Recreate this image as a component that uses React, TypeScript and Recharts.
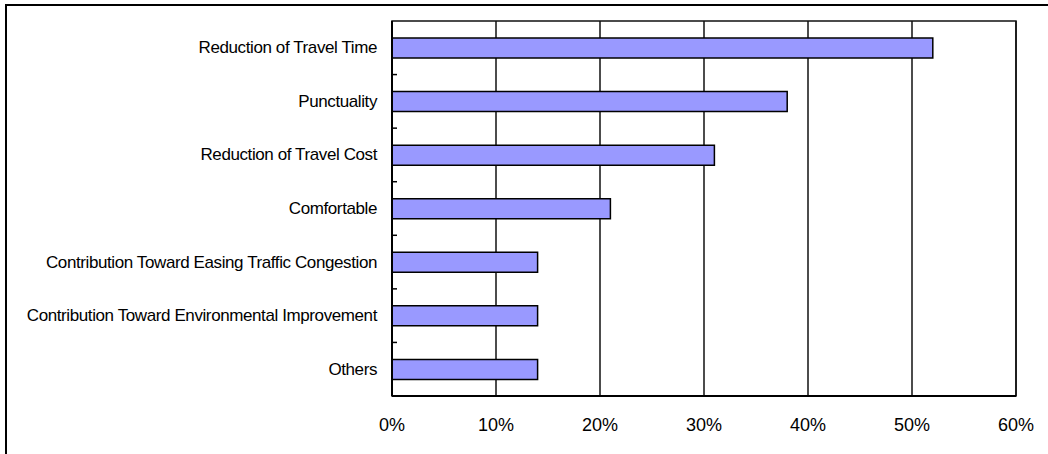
import { BarChart, Bar, XAxis, YAxis, CartesianGrid, ReferenceArea } from 'recharts'

const reasons = [
  'Reduction of Travel Time',
  'Punctuality',
  'Reduction of Travel Cost',
  'Comfortable',
  'Contribution Toward Easing Traffic Congestion',
  'Contribution Toward Environmental Improvement',
  'Others',
]
const shares = [52, 38, 31, 21, 14, 14, 14]
const xTicks = [0, 10, 20, 30, 40, 50, 60]

const data = reasons.map((name, i) => ({ name, share: shares[i] }))

const LABEL_GAP = 15

// category label plus the little inward tick at the lower edge of each band
const ReasonTick = (props: any) => {
  const { x, y, payload, index } = props
  const half = payload?.offset ?? 26.7
  const axisX = x + LABEL_GAP
  return (
    <g>
      <text
        x={x} y={y} textAnchor="end" dominantBaseline="central"
        fontFamily="Arial, 'Liberation Sans', sans-serif" fontSize={17} letterSpacing={-0.4} fill="#000"
      >
        {payload.value}
      </text>
      {index < reasons.length - 1 && (
        <line x1={axisX} x2={axisX + 5} y1={y + half} y2={y + half} stroke="#000" strokeWidth={1.5} />
      )}
    </g>
  )
}

export default function App() {
  return (
    <div style={{ position: 'absolute', left: 0, top: 0, width: 1048, height: 454, overflow: 'hidden', background: '#fff' }}>
      <div style={{ position: 'absolute', left: 5, top: 4, width: 1100, height: 500, border: '2px solid #000' }} />
      <div style={{ position: 'absolute', left: 0, top: 0 }}>
        <BarChart
          width={1048} height={454} data={data} layout="vertical"
          margin={{ top: 21, right: 32, bottom: 0, left: 0 }}
        >
          <CartesianGrid horizontal={false} stroke="#111" strokeWidth={1.5} />
          <ReferenceArea x1={0} x2={60} fill="none" stroke="#111" strokeWidth={1.5} fillOpacity={0} />
          <XAxis
            type="number" domain={[0, 60]} ticks={xTicks} height={58}
            tickFormatter={(v: number) => `${v}%`}
            tick={{ fill: '#000', fontSize: 18, fontFamily: "Arial, 'Liberation Sans', sans-serif" }}
            tickLine={false} tickSize={0} tickMargin={22}
            axisLine={{ stroke: '#000', strokeWidth: 2 }}
          />
          <YAxis
            type="category" dataKey="name" width={392}
            tick={<ReasonTick />} tickLine={false} tickSize={0} tickMargin={LABEL_GAP}
            axisLine={{ stroke: '#000', strokeWidth: 2 }} interval={0}
          />
          <Bar
            dataKey="share" fill="#9999FF" stroke="#000" strokeWidth={1.5}
            barSize={20} isAnimationActive={false}
          />
        </BarChart>
      </div>
    </div>
  )
}
